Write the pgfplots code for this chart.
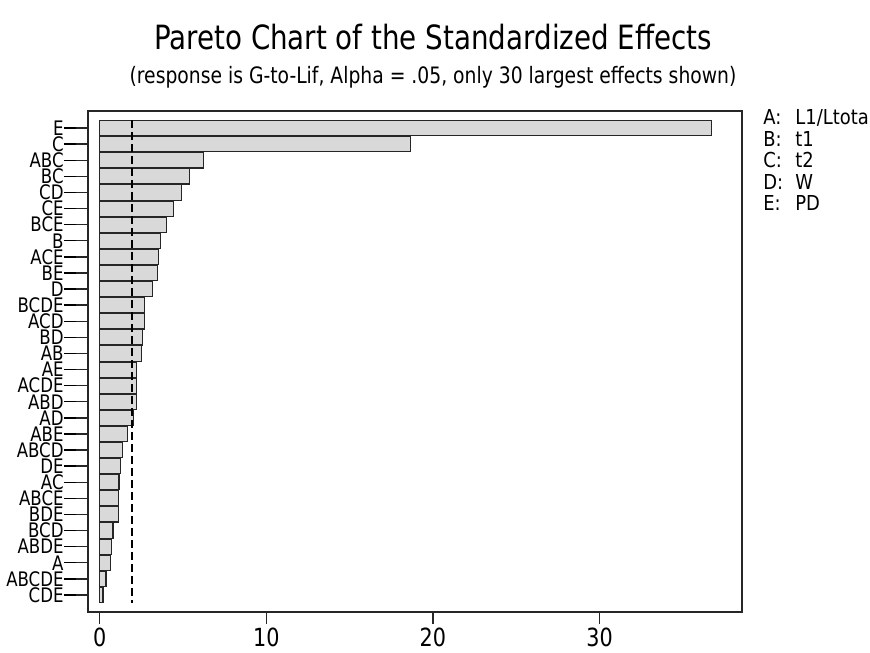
\documentclass[border=0pt]{standalone}
\usepackage{pgfplots}
\pgfplotsset{compat=1.18}
\usepackage{fontspec}
\setmainfont{DejaVu Sans}[FakeStretch=0.83]
\newfontfamily\legfont{DejaVu Sans}[FakeStretch=0.87]
\newcommand{\tk}{\kern0.2pt\rule[3.3pt]{5.8pt}{0.7pt}}
\begin{document}
\begin{tikzpicture}[x=1pt,y=1pt]
\useasboundingbox (0,0) rectangle (435,326);
\node[anchor=base] at (216.5,301) {\fontsize{16.7}{19}\selectfont Pareto Chart of the Standardized Effects};
\node[anchor=base] at (216.5,284) {\fontsize{11.3}{13}\selectfont (response is G-to-Lif, Alpha = .05, only 30 largest effects shown)};
\node[anchor=north west, inner sep=0pt, align=left, font=\legfont\fontsize{10.3}{10.75}\selectfont] at (381.5,271.3) {%
\makebox[16pt][l]{A:}L1/Ltota\\
\makebox[16pt][l]{B:}t1\\
\makebox[16pt][l]{C:}t2\\
\makebox[16pt][l]{D:}W\\
\makebox[16pt][l]{E:}PD};
\begin{axis}[
  at={(44pt,20pt)}, anchor=south west,
  scale only axis, width=327pt, height=250.5pt,
  xbar, bar width=0.95,
  xmin=-0.7, xmax=38.55,
  ymin=-0.06, ymax=31.06, y dir=reverse,
  ytick={1,...,30},
  yticklabels={E\tk,C\tk,ABC\tk,BC\tk,CD\tk,CE\tk,BCE\tk,B\tk,ACE\tk,BE\tk,D\tk,BCDE\tk,ACD\tk,BD\tk,AB\tk,AE\tk,ACDE\tk,ABD\tk,AD\tk,ABE\tk,ABCD\tk,DE\tk,AC\tk,ABCE\tk,BDE\tk,BCD\tk,ABDE\tk,A\tk,ABCDE\tk,CDE\tk},
  xtick={0,10,20,30},
  xtick pos=bottom, ytick pos=left,
  tick align=outside, major tick length=6pt,
  axis line style={line width=0.75pt, black!85},
  every tick/.style={line width=0.7pt, black!85},
  yticklabel style={font=\fontsize{10}{10}\selectfont, inner xsep=0pt, inner ysep=0pt},
  xticklabel style={font=\fontsize{12.5}{14}\selectfont, inner sep=0pt, yshift=-2pt},
  /pgf/number format/assume math mode=true,
  clip=false,
]
\addplot[fill=black!15, draw=black!85, line width=0.6pt] coordinates {
(36.7,1) (18.65,2) (6.25,3) (5.38,4) (4.9,5) (4.44,6) (3.99,7) (3.67,8) (3.55,9) (3.49,10)
(3.15,11) (2.71,12) (2.69,13) (2.59,14) (2.53,15) (2.21,16) (2.19,17) (2.19,18) (2.05,19) (1.69,20)
(1.39,21) (1.23,22) (1.16,23) (1.15,24) (1.12,25) (0.80,26) (0.72,27) (0.66,28) (0.38,29) (0.2,30)
};
\addplot[sharp plot, black, line width=0.9pt, dash pattern=on 4pt off 2pt, forget plot] coordinates {(1.96,0.5) (1.96,30.5)};
\end{axis}
\end{tikzpicture}
\end{document}
